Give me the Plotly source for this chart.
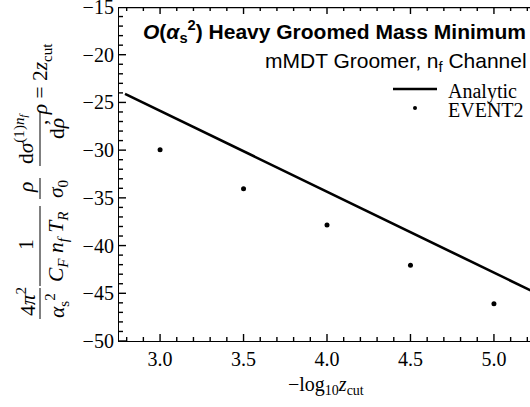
import plotly.graph_objects as go

# ---- data ----
zcut_points = [3.0, 3.5, 4.0, 4.5, 5.0]
event2_values = [-29.95, -34.05, -37.85, -42.05, -46.1]
analytic_x = [2.79, 5.22]
analytic_y = [-24.1, -44.7]
x_major_ticks = [3.0, 3.5, 4.0, 4.5, 5.0]
y_major_ticks = [-50, -45, -40, -35, -30, -25, -20, -15]
x_minor_ticks = [round(2.8 + 0.1 * i, 1) for i in range(25)]
y_minor_ticks = list(range(-50, -14))

W, H = 530, 407
ML, MR, MT, MB = 119, 0, 7, 66
PW, PH = W - ML - MR, H - MT - MB
xr = [2.754, 5.216]
yr = [-50, -15]
PPX = PW / (xr[1] - xr[0])   # pixels per x unit
PPY = PH / (yr[1] - yr[0])   # pixels per y unit
MAJ, MIN = 7, 4              # tick lengths in px


def px(x):
    return (x - ML) / PW


def py(y):
    return 1 - (y - MT) / PH


SERIF = "Liberation Serif"
SANS = "Liberation Sans"

fig = go.Figure()

# frame ticks (inside) built from the tick lists
tx, ty = [], []
for v in x_minor_ticks:
    ln = (MAJ if any(abs(v - m) < 1e-9 for m in x_major_ticks) else MIN) / PPY
    tx += [v, v, None, v, v, None]
    ty += [yr[0], yr[0] + ln, None, yr[1], yr[1] - ln, None]
for v in y_minor_ticks:
    ln = (MAJ if v in y_major_ticks else MIN) / PPX
    tx += [xr[0], xr[0] + ln, None]
    ty += [v, v, None]
fig.add_trace(go.Scatter(x=tx, y=ty, mode="lines", line=dict(color="black", width=1.4),
                         showlegend=False, hoverinfo="skip", connectgaps=False))
# top frame line
fig.add_trace(go.Scatter(x=[xr[0], xr[1]], y=[yr[1], yr[1]], mode="lines",
                         line=dict(color="black", width=2.4), showlegend=False,
                         hoverinfo="skip"))

fig.add_trace(go.Scatter(x=analytic_x, y=analytic_y, mode="lines",
                         line=dict(color="black", width=2.6), name="Analytic",
                         showlegend=False))
fig.add_trace(go.Scatter(x=zcut_points, y=event2_values, mode="markers",
                         marker=dict(color="black", size=5), name="EVENT2",
                         showlegend=False))

fig.update_layout(
    template="none",
    width=W, height=H,
    margin=dict(l=ML, r=MR, t=MT, b=MB, autoexpand=False),
    paper_bgcolor="white", plot_bgcolor="white",
    xaxis=dict(range=xr, tickvals=x_major_ticks,
               ticktext=[f"{v:.1f}" for v in x_major_ticks], ticks="",
               showgrid=False, zeroline=False, ticklabeloverflow="allow",
               showline=True, linecolor="black", linewidth=1.2,
               tickfont=dict(family=SERIF, size=20, color="black")),
    yaxis=dict(range=yr, tickvals=y_major_ticks, ticks="",
               showgrid=False, zeroline=False, ticklabeloverflow="allow",
               showline=True, linecolor="black", linewidth=1.2,
               tickfont=dict(family=SERIF, size=20, color="black")),
    showlegend=False,
)

ann = []
# x-axis title
ann.append(dict(x=px(326), y=py(386), xref="paper", yref="paper", showarrow=False,
                xanchor="center", yanchor="middle",
                text="\u2212log<sub>10</sub><i>z</i><sub>cut</sub>",
                font=dict(family=SERIF, size=20, color="black")))
# title and subtitle
ann.append(dict(x=px(528), y=py(31), xref="paper", yref="paper", showarrow=False,
                xanchor="right", yanchor="middle",
                text="<b><i>O</i>(<i>\u03b1</i><sub>s</sub><sup>2</sup>) Heavy Groomed Mass Minimum</b>",
                font=dict(family=SANS, size=21, color="black")))
ann.append(dict(x=px(529), y=py(62), xref="paper", yref="paper", showarrow=False,
                xanchor="right", yanchor="middle", text="mMDT Groomer, n<sub>f</sub> Channel",
                font=dict(family=SANS, size=21, color="black")))
# legend text
ann.append(dict(x=px(446), y=py(91), xref="paper", yref="paper", showarrow=False,
                xanchor="left", yanchor="middle", text="Analytic",
                font=dict(family=SERIF, size=20, color="black")))
ann.append(dict(x=px(446), y=py(110), xref="paper", yref="paper", showarrow=False,
                xanchor="left", yanchor="middle", text="EVENT2",
                font=dict(family=SERIF, size=20, color="black")))

# y-axis title pieces (rotated)
yt = [
    ("4<i>\u03c0</i><sup>2</sup>", 26, 302),
    ("<i>\u03b1</i><sub>s</sub><sup>2</sup>", 57, 305),
    ("1", 26, 245),
    ("<i>C</i><sub><i>F</i></sub> <i>n</i><sub><i>f</i></sub> <i>T</i><sub><i>R</i></sub>", 57, 247),
    ("<i>\u03c1</i>", 26, 188),
    ("<i>\u03c3</i><sub>0</sub>", 57, 189),
    ("d<i>\u03c3</i><sup>(1)<i>n</i><sub><i>f</i></sub></sup>", 24, 139),
    ("d<i>\u03c1</i>", 57, 128),
    (",\u00a0<i>\u03c1</i>\u00a0=\u00a02<i>z</i><sub>cut</sub>", 41, 84),
]
for t, xx, yy in yt:
    ann.append(dict(x=px(xx), y=py(yy), xref="paper", yref="paper", showarrow=False,
                    text=t, textangle=-90, xanchor="center", yanchor="middle",
                    font=dict(family=SERIF, size=21.5, color="black")))
fig.update_layout(annotations=ann)

shapes = []
# fraction bars of the y-axis title
for a, b in [(287, 320), (205, 287), (177, 200), (110, 167)]:
    shapes.append(dict(type="line", xref="paper", yref="paper", x0=px(40), x1=px(40),
                       y0=py(a + 1), y1=py(b - 1), line=dict(color="black", width=1)))
# legend symbols
shapes.append(dict(type="line", xref="paper", yref="paper", x0=px(393), x1=px(437),
                   y0=py(89), y1=py(89), line=dict(color="black", width=2.6)))
shapes.append(dict(type="circle", xref="paper", yref="paper", x0=px(413), x1=px(417),
                   y0=py(110), y1=py(106), fillcolor="black", line=dict(width=0)))
fig.update_layout(shapes=shapes)

fig.write_html("out.html")
